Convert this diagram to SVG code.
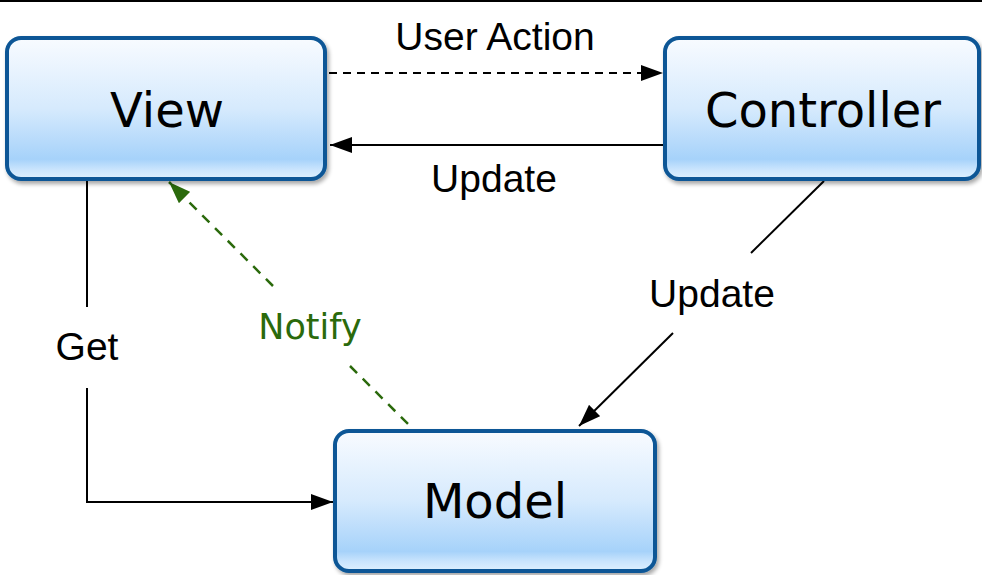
<svg xmlns="http://www.w3.org/2000/svg" width="982" height="575" viewBox="0 0 982 575">
<defs>
<linearGradient id="boxFill" x1="0" y1="0" x2="0" y2="1">
<stop offset="0" stop-color="#f8fbff"/>
<stop offset="0.5" stop-color="#d6eafd"/>
<stop offset="0.86" stop-color="#a6d2fa"/>
<stop offset="0.93" stop-color="#c9e4fd"/>
<stop offset="1" stop-color="#dff0fe"/>
</linearGradient>
<filter id="shadow" x="-5%" y="-5%" width="115%" height="120%">
<feGaussianBlur in="SourceAlpha" stdDeviation="2"/>
<feOffset dx="2" dy="3" result="b"/>
<feComponentTransfer><feFuncA type="linear" slope="0.35"/></feComponentTransfer>
<feMerge><feMergeNode/><feMergeNode in="SourceGraphic"/></feMerge>
</filter>
<marker id="arrowBlack" viewBox="0 0 22 16" refX="22" refY="8" markerWidth="22" markerHeight="16" markerUnits="userSpaceOnUse" orient="auto">
<path d="M0,0 L22,8 L0,16 Z" fill="#000"/>
</marker>
<marker id="arrowGreen" viewBox="0 0 22 16" refX="22" refY="8" markerWidth="22" markerHeight="16" markerUnits="userSpaceOnUse" orient="auto">
<path d="M0,0 L22,8 L0,16 Z" fill="#2b6a0c"/>
</marker>
</defs>
<style>
.box{fill:url(#boxFill);stroke:#0b5796;stroke-width:4;filter:url(#shadow)}
.title{font-family:"DejaVu Sans",sans-serif;font-size:48px;fill:#000;text-anchor:middle}
.lbl{font-family:"Liberation Sans",Arial,sans-serif;font-size:39px;fill:#000;text-anchor:middle}
.notify{font-family:"DejaVu Sans",sans-serif;font-size:35px;fill:#2b6a0c;text-anchor:middle}
.line{fill:none;stroke:#000;stroke-width:2}
.dash{fill:none;stroke:#000;stroke-width:2;stroke-dasharray:8 6}
.gdash{fill:none;stroke:#2b6a0c;stroke-width:2.5;stroke-dasharray:10 8}
</style>
<rect width="982" height="575" fill="#fff"/>
<line x1="0" y1="1" x2="982" y2="1" stroke="#000" stroke-width="2"/>
<g id="connectors">
<path class="dash" d="M329,73 L663,73" marker-end="url(#arrowBlack)"/>
<path class="line" d="M665,145 L330,145" marker-end="url(#arrowBlack)"/>
<path class="line" d="M824,181 L751,253"/>
<path class="line" d="M673,333 L579,426" marker-end="url(#arrowBlack)"/>
<path class="gdash" d="M273,286 L169,182" marker-end="url(#arrowGreen)"/>
<path class="gdash" d="M350,366 L413,429"/>
<path class="line" d="M87,181 L87,307"/>
<path class="line" d="M87,388 L87,502 L333,502" marker-end="url(#arrowBlack)"/>
</g>
<g id="view">
<rect class="box" x="7" y="38" width="318" height="141" rx="14"/>
<text class="title" x="167" y="127">View</text>
</g>
<g id="controller">
<rect class="box" x="665" y="38" width="314" height="141" rx="14"/>
<text class="title" x="823" y="127">Controller</text>
</g>
<g id="model">
<rect class="box" x="335" y="431" width="320" height="140" rx="14"/>
<text class="title" x="495" y="518">Model</text>
</g>
<g id="labels">
<text class="lbl" x="495" y="50">User Action</text>
<text class="lbl" x="494" y="192">Update</text>
<text class="lbl" x="712" y="307">Update</text>
<text class="lbl" x="87" y="360">Get</text>
<text class="notify" x="310" y="339">Notify</text>
</g>
</svg>
